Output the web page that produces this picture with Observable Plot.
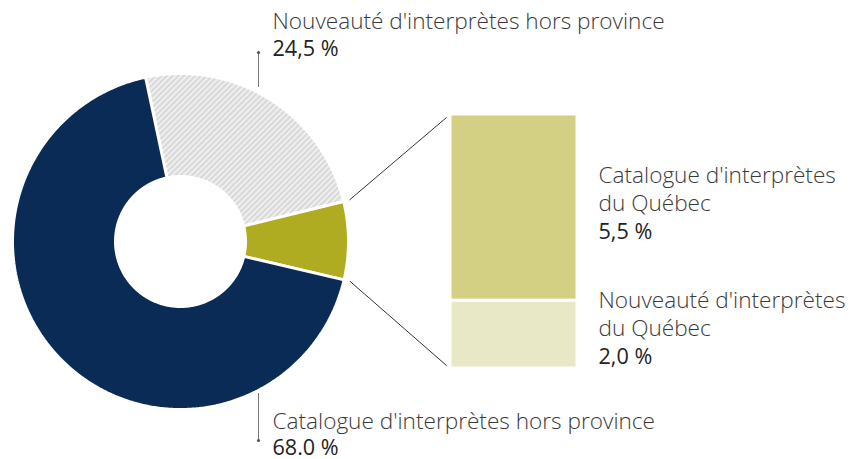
<!DOCTYPE html>
<html>
<head>
<meta charset="utf-8">
<script src="https://cdn.jsdelivr.net/npm/d3@7"></script>
<script src="https://cdn.jsdelivr.net/npm/@observablehq/plot@0.6"></script>
<style>
  html, body { margin: 0; padding: 0; background: #fff; }
  body { width: 858px; height: 459px; overflow: hidden; }
</style>
</head>
<body>
<div id="chart"></div>
<script>
// ---- data ----
const pieLabels = ["Nouveauté d'interprètes hors province", "Interprètes du Québec", "Catalogue d'interprètes hors province"];
const pieValues = [24.5, 7.5, 68.0];
const pieValueText = ["24,5 %", "", "68.0 %"];
const barLabels = ["Catalogue d'interprètes\ndu Québec", "Nouveauté d'interprètes\ndu Québec"];
const barValues = [5.5, 2.0];
const barValueText = ["5,5 %", "2,0 %"];

// ---- layout ----
const W = 858, H = 459;
const cx = 180, cy = 241, R = 168, r0 = 65;
const startDeg = -12;
const pieFills = ["url(#hatch)", "#b0ac21", "#0a2b55"];
const barFills = ["#d3d083", "#e9e8c6"];
const barX1 = 450, barX2 = 577, barTop = 114, barBottom = 368;

const a0 = startDeg * Math.PI / 180;
const arcs = d3.pie().sort(null).startAngle(a0).endAngle(a0 + 2 * Math.PI)(pieValues);

function polar(a, rad) { return {x: cx + rad * Math.sin(a), y: cy - rad * Math.cos(a)}; }
function slicePolygon(arc, i) {
  const pts = [];
  const n = Math.max(8, Math.ceil((arc.endAngle - arc.startAngle) / (Math.PI / 360)));
  for (let k = 0; k <= n; k++) {
    const a = arc.startAngle + (arc.endAngle - arc.startAngle) * k / n;
    pts.push({slice: i, ...polar(a, R)});
  }
  for (let k = n; k >= 0; k--) {
    const a = arc.startAngle + (arc.endAngle - arc.startAngle) * k / n;
    pts.push({slice: i, ...polar(a, r0)});
  }
  pts.push(pts[0]);
  return pts;
}

// bar stack (top: catalogue, bottom: nouveauté)
const barTotal = d3.sum(barValues);
const k = (barBottom - barTop) / barTotal;
let acc = 0;
const barData = barValues.map((v, i) => {
  const d = {label: barLabels[i], valueText: barValueText[i], fill: barFills[i], y1: barTop + acc * k, y2: barTop + (acc + v) * k};
  acc += v;
  return d;
});

// leader lines from the Québec slice to the bar
const q = arcs[1];
const pStart = polar(q.startAngle, R + 6), pEnd = polar(q.endAngle, R + 6);
const links = [
  {x1: pStart.x, y1: pStart.y, x2: barX1 - 4, y2: barTop + 3},
  {x1: pEnd.x, y1: pEnd.y, x2: barX1 - 4, y2: barBottom - 3}
];

// label positions for pie slices
const tickX = 258, textX = 272;
const pieText = [
  {label: pieLabels[0], value: pieValueText[0], ly: 28, vy: 55, t1: 52, t2: 87, dot: 52},
  {label: pieLabels[2], value: pieValueText[2], ly: 428, vy: 454, t1: 393, t2: 440, dot: 440}
];
const barText = barData.map((d, i) => ({label: d.label, value: d.valueText, ly: i === 0 ? 210 : 335, vy: i === 0 ? 238 : 363}));

const font = "'Open Sans', sans-serif";
const LFS = 22.6, VFS = 21.6;
const marks = [];
arcs.forEach((arc, i) => {
  marks.push(Plot.line(slicePolygon(arc, i), {x: "x", y: "y", fill: pieFills[i], stroke: "#fff", strokeWidth: 3, strokeLinejoin: "miter", curve: "linear"}));
});
marks.push(
  Plot.rect(barData, {x1: () => barX1, x2: () => barX2, y1: "y1", y2: "y2", fill: "fill", stroke: "#fff", strokeWidth: 3}),
  Plot.link(links, {x1: "x1", y1: "y1", x2: "x2", y2: "y2", stroke: "#333", strokeWidth: 1}),
  Plot.ruleX(pieText, {x: () => tickX, y1: "t1", y2: "t2", stroke: "#777", strokeWidth: 1}),
  Plot.dot(pieText, {x: () => tickX, y: "dot", r: 1.6, fill: "#555"}),
  Plot.text(pieText, {x: () => textX, y: "ly", text: "label", textAnchor: "start", lineAnchor: "bottom", fontSize: LFS, fontWeight: 300, fill: "#3a3a3a"}),
  Plot.text(pieText, {x: () => textX, y: "vy", text: "value", textAnchor: "start", lineAnchor: "bottom", fontSize: VFS, fontWeight: 400, fill: "#222"}),
  Plot.text(barText, {x: () => 598, y: "ly", text: "label", textAnchor: "start", lineAnchor: "bottom", lineHeight: 28 / LFS, fontSize: LFS, fontWeight: 300, fill: "#3a3a3a"}),
  Plot.text(barText, {x: () => 598, y: "vy", text: "value", textAnchor: "start", lineAnchor: "bottom", fontSize: VFS, fontWeight: 400, fill: "#222"})
);

const chart = Plot.plot({
  width: W, height: H,
  margin: 0,
  style: {fontFamily: font, background: "#fff", overflow: "visible"},
  x: {domain: [0, W], range: [0, W], axis: null},
  y: {domain: [0, H], range: [0, H], axis: null},
  marks
});

// hatch pattern
const defs = d3.select(chart).insert("defs", ":first-child");
const pat = defs.append("pattern").attr("id", "hatch").attr("patternUnits", "userSpaceOnUse")
  .attr("width", 4).attr("height", 4).attr("patternTransform", "rotate(45)");
pat.append("rect").attr("width", 4).attr("height", 4).attr("fill", "#d8d8d8");
pat.append("line").attr("x1", 1).attr("y1", 0).attr("x2", 1).attr("y2", 4).attr("stroke", "#fff").attr("stroke-width", 1.2);

document.getElementById("chart").appendChild(chart);
</script>
</body>
</html>
